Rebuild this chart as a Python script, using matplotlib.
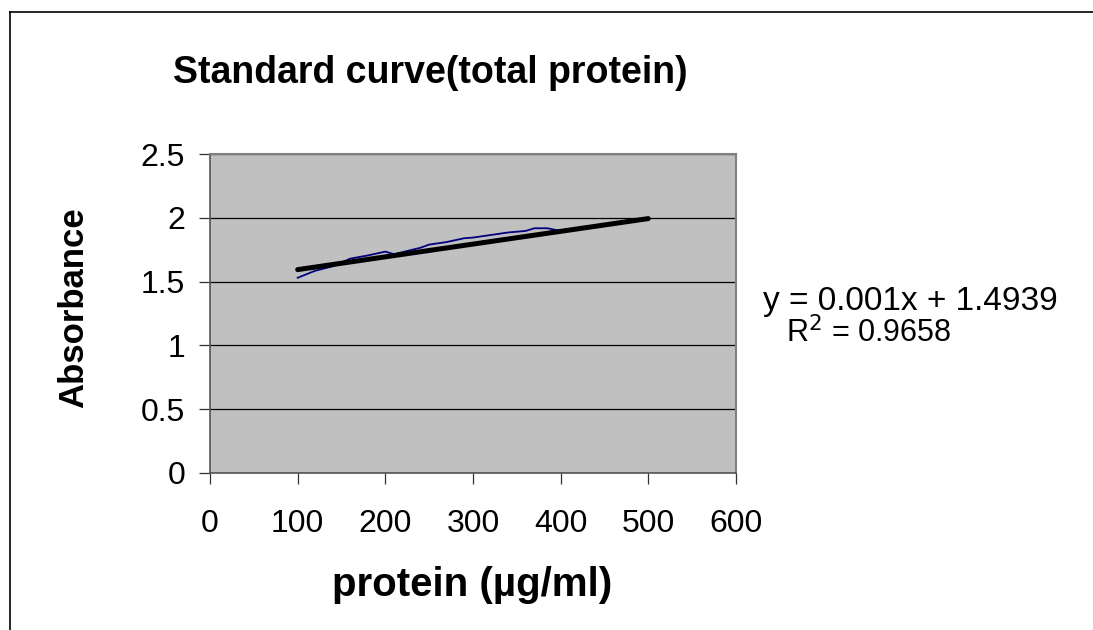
import matplotlib
matplotlib.use("Agg")
import matplotlib.pyplot as plt
from matplotlib.lines import Line2D

plt.rcParams['font.family'] = ['Liberation Sans', 'DejaVu Sans']

# Data
protein = [100, 120, 140, 160, 180, 200, 210, 240, 250, 270, 290, 300,
           340, 360, 370, 385, 400, 420, 440, 460, 480, 500]
absorbance = [1.53, 1.585, 1.62, 1.68, 1.705, 1.735, 1.715, 1.765, 1.79, 1.81, 1.84, 1.845,
              1.885, 1.897, 1.918, 1.918, 1.897, 1.912, 1.93, 1.955, 1.975, 1.99]
slope = 0.001
intercept = 1.4939
r2 = 0.9658
x_ticks = [0, 100, 200, 300, 400, 500, 600]
y_ticks = [0, 0.5, 1, 1.5, 2, 2.5]
y_tick_labels = ['0', '0.5', '1', '1.5', '2', '2.5']

fig = plt.figure(figsize=(10.93, 6.30), dpi=100)
fig.patch.set_facecolor('white')

# outer chart border (extends past right/bottom edges)
fig.add_artist(Line2D([10/1093, 1.01], [1 - 12/630, 1 - 12/630], color='black', lw=1.2))
fig.add_artist(Line2D([10/1093, 10/1093], [1 - 12/630, -0.01], color='black', lw=1.2))

ax = fig.add_axes([210/1093, 1 - 473/630, (736-210)/1093, (473-154)/630])
ax.set_facecolor('#C0C0C0')
ax.set_xlim(0, 600)
ax.set_ylim(0, 2.5)
ax.set_xticks(x_ticks)
ax.set_yticks(y_ticks)
ax.set_yticklabels(y_tick_labels)
ax.grid(axis='y', color='black', lw=0.9)
ax.set_axisbelow(True)
ax.tick_params(axis='both', direction='out', length=8, width=0.9, color='#333333',
               labelsize=23)
ax.tick_params(axis='y', pad=10)
ax.tick_params(axis='x', pad=18)
for s in ['left', 'bottom']:
    ax.spines[s].set_color('#555555')
    ax.spines[s].set_linewidth(1.2)
for s in ['right', 'top']:
    ax.spines[s].set_color('#808080')
    ax.spines[s].set_linewidth(1.5)

ax.plot(protein, absorbance, color='#000080', lw=1.3, zorder=3)
tx = [protein[0], protein[-1]]
ty = [slope * v + intercept for v in tx]
ax.plot(tx, ty, color='black', lw=3.6, solid_capstyle='round', zorder=4)

fig.text(430/1093, 1 - 83/630, 'Standard curve(total protein)', fontsize=27,
         fontweight='bold', ha='center', va='baseline')
fig.text(74/1093, 1 - 308/630, 'Absorbance', fontsize=25, fontweight='bold',
         rotation=90, ha='center', va='center')
fig.text(472/1093, 1 - 585/630, 'protein (µg/ml)', fontsize=29, fontweight='bold',
         ha='center', va='center')

fig.text(763/1093, 1 - 310/630, f'y = {slope:g}x + {intercept:g}', fontsize=24,
         ha='left', va='baseline')
fig.text(869/1093, 1 - 342/630, f'R$^2$ = {r2:g}', fontsize=22,
         ha='center', va='baseline')

fig.savefig('out.png', dpi=100)
